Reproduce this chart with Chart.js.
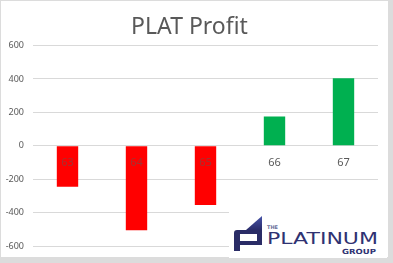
<!DOCTYPE html>
<html>
<head>
<meta charset="utf-8">
<script src="https://cdn.jsdelivr.net/npm/chart.js@4"></script>
<style>
body{margin:0;background:#dcdcdc;}
#wrap{position:absolute;left:1px;top:1px;width:387px;height:256px;background:#fff;}
#logo{position:absolute;left:228px;top:207px;}
</style>
</head>
<body>
<div id="wrap">
<canvas id="grafica" width="387" height="256"></canvas>
<svg id="logo" width="158" height="50" viewBox="0 0 158 50">
  <defs>
    <linearGradient id="cuna" x1="0" y1="0" x2="0" y2="1">
      <stop offset="0" stop-color="#4653a8"/>
      <stop offset="1" stop-color="#2a2c6a"/>
    </linearGradient>
  </defs>
  <rect x="0" y="0" width="158" height="50" fill="#fff"/>
  <path d="M17 22 L33 8 L33 22 Z" fill="url(#cuna)"/>
  <path fill-rule="evenodd" fill="#2a2c66" d="M5 25 Q5 22 8 22 L33 22 L33 37 L11 37 L11 43 L5 43 Z M11 26 L28 26 L28 33 L11 33 Z"/>
  <text x="38" y="21" font-family="DejaVu Sans" font-weight="bold" font-size="5" fill="#6b6f9a" textLength="11" lengthAdjust="spacingAndGlyphs">THE</text>
  <text x="38" y="36" font-family="DejaVu Sans" font-size="15" fill="#2f3272" textLength="111" lengthAdjust="spacingAndGlyphs">PLATINUM</text>
  <text x="113" y="46" font-family="DejaVu Sans" font-weight="bold" font-size="7" fill="#2f3272" textLength="34" lengthAdjust="spacingAndGlyphs">GROUP</text>
</svg>
</div>
<script>
var categorias = ['63', '64', '65', '66', '67'];
var ganancias = [-245, -505, -355, 175, 405];
var colores = ['#ff0000', '#ff0000', '#ff0000', '#00b050', '#00b050'];
var ticksY = [-600, -400, -200, 0, 200, 400, 600];

// etiquetas de categoria junto a la linea de cero
var etiquetasCero = {
    id: 'etiquetasCero',
    afterDatasetsDraw(chart) {
        let ctx = chart.ctx;
        let x = chart.scales.x;
        let y = chart.scales.y;
        let y0 = y.getPixelForValue(0);
        ctx.save();
        ctx.font = '11px "Noto Sans"';
        ctx.textAlign = 'center';
        ctx.textBaseline = 'middle';
        categorias.forEach((cat, i) => {
            ctx.fillStyle = ganancias[i] < 0 ? 'rgba(89,89,89,0.55)' : '#595959';
            ctx.fillText(cat, x.getPixelForValue(i), y0 + 17);
        });
        ctx.restore();
    }
};

let grafica = document.getElementById('grafica').getContext('2d');
let profitChart = new Chart(grafica, {
    type: 'bar',
    data: {
        labels: categorias,
        datasets: [{
            data: ganancias,
            backgroundColor: colores,
            categoryPercentage: 1,
            barPercentage: 0.31
        }]
    },
    options: {
        responsive: false,
        animation: false,
        layout: {padding: {top: 0, right: 10, bottom: 11, left: 0}},
        plugins: {
            legend: {display: false},
            tooltip: {enabled: false},
            title: {
                display: true,
                text: 'PLAT Profit',
                color: '#595959',
                font: {family: 'Noto Sans', size: 23, weight: 'normal'},
                padding: {top: 13, bottom: 4}
            }
        },
        scales: {
            x: {display: false},
            y: {
                min: ticksY[0],
                max: ticksY[ticksY.length - 1],
                afterBuildTicks: s => { s.ticks = ticksY.map(v => ({value: v})); },
                afterFit: s => { s.width = 32; s.paddingTop = 0; s.paddingBottom = 0; },
                border: {display: false},
                grid: {color: '#d9d9d9', drawTicks: false},
                ticks: {
                    color: '#595959',
                    padding: 9,
                    font: {family: 'Noto Sans', size: 9}
                }
            }
        }
    },
    plugins: [etiquetasCero]
});
</script>
</body>
</html>
